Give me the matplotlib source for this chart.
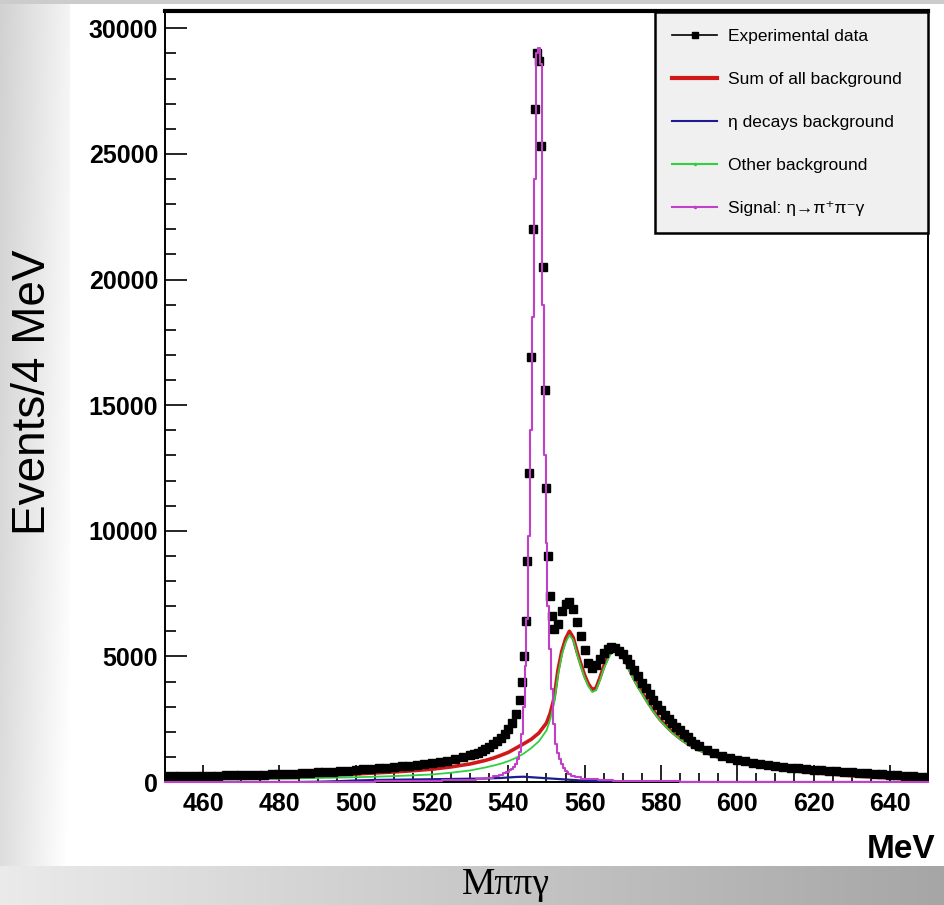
import numpy as np
import matplotlib
matplotlib.use('Agg')
import matplotlib.pyplot as plt
from matplotlib.lines import Line2D
from matplotlib.ticker import MultipleLocator

# ---- values (M_pipigamma in MeV, events per bin) ----
# experimental data, bin centres in pieces (finer binning near the eta peak)
exp_left = [230, 230, 235, 240, 240, 245, 250, 255, 260, 265,
            270, 280, 285, 290, 300, 310, 320, 335, 350, 365,
            380, 395, 410, 430, 455, 480, 500, 525, 550, 575,
            600, 630, 655, 680, 710, 750, 790, 840, 900, 980,
            1060]                                  # 450..530 step 2
exp_rise = [1110, 1170, 1240, 1320, 1400, 1500, 1620, 1760, 1920, 2100,
            2350, 2700, 3250]                      # 531..543 step 1
exp_peak = [4000, 5000, 6400, 8800, 12300, 16900, 22000, 26800, 29000, 28700,
            25300, 20500, 15600, 11700, 9000, 7400, 6600, 6100]   # 543.5..552 step 0.5
exp_bumps = [6300, 6800, 7100, 7150, 6900, 6350, 5800, 5250, 4750, 4550,
             4650, 4900, 5150, 5300, 5380, 5330, 5200, 5080, 4900, 4680,
             4450, 4200, 3950, 3730, 3500, 3280, 3070, 2870, 2680, 2500,
             2340, 2200, 2070, 1920, 1780, 1640, 1520, 1420]        # 553..590 step 1
exp_tail = [1270, 1150, 1040, 950, 880, 820, 760, 710, 670, 630,
            600, 570, 540, 515, 490, 465, 440, 420, 400, 380,
            360, 340, 320, 300, 280, 260, 240, 220, 200, 180]       # 592..650 step 2

exp_x = np.concatenate([np.arange(450, 531, 2), np.arange(531, 544, 1),
                        np.arange(543.5, 552.1, 0.5), np.arange(553, 591, 1),
                        np.arange(592, 651, 2)])
exp_y = np.array(exp_left + exp_rise + exp_peak + exp_bumps + exp_tail)

# backgrounds share one grid
bg_x = [450, 455, 460, 465, 470, 475, 480, 485, 490, 495, 500, 505, 510, 515, 520, 525, 530,
        532, 534, 536, 538, 540, 542, 544, 546, 548, 550,
        551, 552, 553, 554, 555, 556, 557, 558, 559, 560,
        561, 562, 563, 564, 565, 566, 567, 568, 569, 570,
        571, 572, 573, 574, 575, 576, 577, 578, 579, 580,
        581, 582, 583, 584, 585, 586, 587, 588, 589, 590,
        595, 600, 605, 610, 615, 620, 625, 630, 635, 640, 645, 650]
bg_sum = [130, 140, 150, 160, 170, 185, 200, 225, 255, 285, 320, 360, 400, 450, 510, 600, 720,
          790, 860, 950, 1060, 1180, 1350, 1520, 1700, 1950, 2350,
          2750, 3350, 4450, 5200, 5700, 6000, 5750, 5200, 4700, 4250,
          3900, 3680, 3750, 4150, 4600, 4950, 5250, 5330, 5200, 5000,
          4750, 4400, 4100, 3820, 3580, 3320, 3080, 2850, 2640, 2450,
          2290, 2130, 1990, 1860, 1740, 1630, 1530, 1440, 1360, 1280,
          990, 800, 640, 520, 440, 370, 310, 250, 200, 160, 120, 90]
bg_other = [90, 95, 100, 105, 110, 120, 130, 145, 160, 175, 190, 210, 235, 265, 300, 370, 460,
            520, 580, 650, 730, 830, 960, 1130, 1350, 1620, 2050,
            2500, 3150, 4250, 5050, 5550, 5850, 5650, 5100, 4600, 4150,
            3800, 3580, 3650, 4050, 4500, 4850, 5150, 5250, 5120, 4920,
            4680, 4330, 4040, 3760, 3520, 3270, 3030, 2800, 2600, 2410,
            2250, 2090, 1950, 1830, 1710, 1600, 1500, 1410, 1330, 1250,
            960, 770, 620, 500, 420, 350, 295, 240, 190, 150, 110, 80]
bg_eta = [0, 0, 0, 0, 0, 0, 0, 0, 10, 30, 60, 80, 90, 100, 110, 120, 130,
          135, 140, 150, 160, 180, 200, 210, 190, 170, 150,
          140, 130, 120, 110, 100, 90, 80, 70, 60, 50,
          45, 40, 35, 30, 25, 20, 18, 16, 14, 12,
          10, 8, 6, 5, 4, 3, 2, 1, 0, 0,
          0, 0, 0, 0, 0, 0, 0, 0, 0, 0,
          0, 0, 0, 0, 0, 0, 0, 0, 0, 0, 0, 0]

# signal eta -> pi+ pi- gamma
sig_x = [450, 460, 470, 480, 490, 500, 510, 520, 525, 530, 533, 535, 537, 538, 539,
         540.0, 540.5, 541.0, 541.5, 542.0, 542.5, 543.0, 543.5, 544.0, 544.5,
         545.0, 545.5, 546.0, 546.5, 547.0, 547.5, 548.0, 548.5, 549.0, 549.5,
         550.0, 550.5, 551.0, 551.5, 552.0, 552.5, 553.0, 553.5, 554.0, 554.5,
         555.0, 555.5, 556.0, 557, 558, 560, 562, 565, 570, 580, 590, 600, 620, 650]
sig_y = [0, 0, 0, 0, 0, 10, 20, 40, 60, 90, 130, 170, 240, 290, 340,
         400, 460, 520, 600, 720, 900, 1200, 1900, 3000, 4600,
         6500, 9800, 14000, 18500, 24000, 29000, 29200, 28600, 19000, 13000,
         9500, 7000, 5300, 3700, 2300, 1500, 1150, 900, 700, 550,
         450, 380, 330, 250, 190, 130, 100, 70, 40, 20, 10, 0, 0, 0]

labels = ['Experimental data', 'Sum of all background', '\u03b7 decays background',
          'Other background', 'Signal: \u03b7\u2192\u03c0\u207a\u03c0\u207b\u03b3']

sans = ['Liberation Sans', 'DejaVu Sans']
plt.rcParams['font.family'] = sans

W, H = 945, 905
fig = plt.figure(figsize=(W / 100, H / 100), dpi=100)

# grey slide background round a white panel
bg = fig.add_axes([0, 0, 1, 1], zorder=-10)
xx, yy = np.meshgrid(np.arange(W), np.arange(H))
shade = np.ones((H, W))
left = xx < 70
shade[left] = 0.82 + 0.14 * xx[left] / 70 + 0.05 * yy[left] / H
bottom = yy >= 866
shade[bottom] = 0.92 - 0.27 * xx[bottom] / W
shade[yy < 5] = 0.80
bg.imshow(np.dstack([np.clip(shade, 0, 1)] * 3), extent=[0, 1, 0, 1], aspect='auto',
          origin='upper', interpolation='nearest')
bg.set_xlim(0, 1)
bg.set_ylim(0, 1)
bg.axis('off')

ax = fig.add_axes([165 / W, 1 - 782 / H, 763 / W, 771 / H])
ax.plot(exp_x, exp_y, 's', color='black', ms=6, zorder=3)
ax.plot(bg_x, bg_sum, color='#d01818', lw=2.6, zorder=2)
ax.plot(bg_x, bg_other, color='#30d040', lw=1.3, zorder=2.5)
ax.plot(bg_x, bg_eta, color='#1c1c90', lw=1.6, zorder=2.6)
ax.plot(sig_x, sig_y, color='#c040c8', lw=1.5, drawstyle='steps-mid', zorder=4,
        clip_on=False)

ax.set_xlim(450, 650)
ax.set_ylim(0, 30690)
ax.xaxis.set_major_locator(MultipleLocator(20))
ax.xaxis.set_minor_locator(MultipleLocator(5))
ax.yaxis.set_major_locator(MultipleLocator(5000))
ax.yaxis.set_minor_locator(MultipleLocator(1000))
ax.tick_params(axis='y', which='major', direction='in', length=16, width=1.2, pad=5, labelsize=18)
ax.tick_params(axis='y', which='minor', direction='in', length=8, width=1.2)
ax.tick_params(axis='x', which='major', direction='in', length=12, width=1.2, pad=7, labelsize=18)
ax.tick_params(axis='x', which='minor', direction='in', length=6.5, width=1.2)
for t in ax.get_xticklabels() + ax.get_yticklabels():
    t.set_fontweight('bold')
for side in ['left', 'right', 'bottom']:
    ax.spines[side].set_linewidth(1.4)
ax.spines['top'].set_linewidth(3)

handles = [Line2D([], [], color='black', lw=1.2, marker='s', ms=5),
           Line2D([], [], color='#d01818', lw=3),
           Line2D([], [], color='#1c1c90', lw=1.5),
           Line2D([], [], color='#30d040', lw=1.5, marker='.', ms=3),
           Line2D([], [], color='#c040c8', lw=1.5, marker='.', ms=3)]
leg = ax.legend(handles, labels, loc='upper left', bbox_to_anchor=(0.642, 0.72, 0.358, 0.279),
                mode='expand', borderaxespad=0, fancybox=False, framealpha=1,
                facecolor='#f0f0f0', edgecolor='black', handlelength=2.6,
                handletextpad=0.6, labelspacing=1.6, borderpad=1.0,
                prop={'family': sans, 'size': 12.5, 'weight': 'normal'})
leg.get_frame().set_linewidth(1.8)

fig.text(33 / W, 1 - 392 / H, 'Events/4 MeV', rotation=90, ha='center', va='center',
         fontsize=33, family=sans)
fig.text(935 / W, 1 - 858 / H, 'MeV', ha='right', va='baseline', fontsize=24,
         fontweight='bold', family=sans)
fig.text(506 / W, 1 - 885 / H, 'M\u03c0\u03c0\u03b3', ha='center', va='center',
         fontsize=27, family=['Liberation Serif', 'DejaVu Serif'])

fig.savefig('out.png', dpi=100)
